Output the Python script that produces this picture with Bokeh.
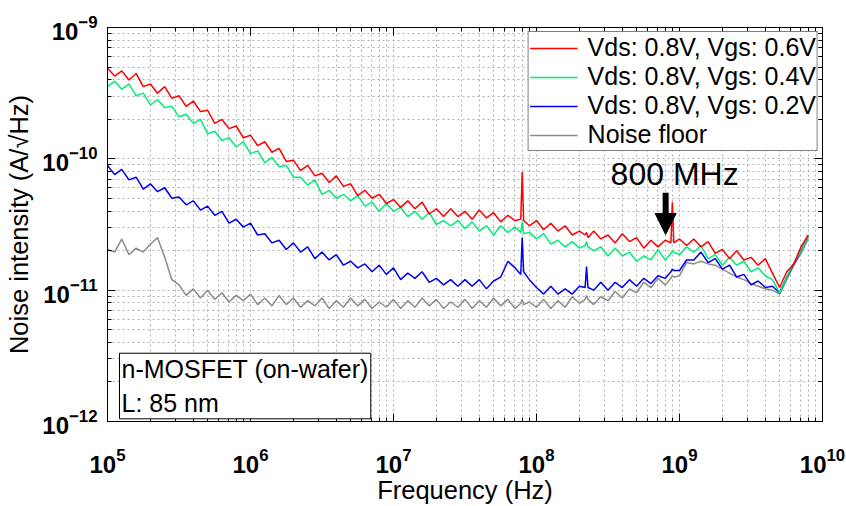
import numpy as np
from bokeh.plotting import figure
from bokeh.models import (LogAxis, FixedTicker, LogTickFormatter, CustomJSTickFormatter,
                          Legend, LegendItem, Label, Arrow, NormalHead, LogScale, Grid)
from bokeh.embed import file_html
from bokeh.resources import INLINE

# frequency grid (log10 of Hz)
freq_exp = [
    5.00, 5.05, 5.10, 5.15, 5.20, 5.25, 5.30, 5.35, 5.40, 5.45,
    5.50, 5.55, 5.60, 5.65, 5.70, 5.75, 5.80, 5.85, 5.90, 5.95,
    6.00, 6.05, 6.10, 6.15, 6.20, 6.25, 6.30, 6.35, 6.40, 6.45,
    6.50, 6.55, 6.60, 6.65, 6.70, 6.75, 6.80, 6.85, 6.90, 6.95,
    7.00, 7.05, 7.10, 7.15, 7.20, 7.25, 7.30, 7.35, 7.40, 7.45,
    7.50, 7.55, 7.60, 7.65, 7.70, 7.75, 7.80, 7.85,
    7.89, 7.90, 7.91, 7.95,
    8.00, 8.05, 8.10, 8.15, 8.20, 8.25, 8.30,
    8.34, 8.35, 8.36,
    8.40, 8.45, 8.50, 8.55, 8.60, 8.65, 8.70, 8.75, 8.80, 8.85, 8.90,
    8.94, 8.95, 8.96,
    9.00, 9.05, 9.10, 9.15, 9.20, 9.25, 9.30, 9.35, 9.40, 9.45,
    9.50, 9.55, 9.60, 9.65, 9.70, 9.75, 9.80, 9.85, 9.90,
]

# noise intensity, log10 of A/sqrt(Hz)
vgs06_log = [
    -9.31, -9.37, -9.33, -9.40, -9.35, -9.45, -9.43, -9.50, -9.45, -9.54,
    -9.52, -9.60, -9.56, -9.64, -9.63, -9.73, -9.70, -9.77, -9.75, -9.84,
    -9.82, -9.90, -9.87, -9.95, -9.92, -10.02, -10.01, -10.09, -10.05, -10.13,
    -10.11, -10.18, -10.13, -10.21, -10.19, -10.28, -10.24, -10.30, -10.27, -10.34,
    -10.31, -10.37, -10.32, -10.38, -10.33, -10.42, -10.38, -10.44, -10.38, -10.44,
    -10.40, -10.46, -10.39, -10.45, -10.41, -10.48, -10.43, -10.47,
    -10.46, -10.10, -10.47, -10.51,
    -10.47, -10.54, -10.49, -10.55, -10.51, -10.58, -10.55,
    -10.58, -10.56, -10.60,
    -10.55, -10.61, -10.58, -10.64, -10.57, -10.63, -10.60, -10.68, -10.62, -10.67, -10.62,
    -10.64, -10.33, -10.64,
    -10.61, -10.66, -10.61, -10.67, -10.63, -10.72, -10.69, -10.76, -10.70, -10.77,
    -10.75, -10.81, -10.76, -10.87, -10.98, -10.86, -10.80, -10.67, -10.58,
]
vgs04_log = [
    -9.45, -9.41, -9.47, -9.43, -9.52, -9.50, -9.59, -9.55, -9.61, -9.60,
    -9.68, -9.66, -9.73, -9.70, -9.81, -9.79, -9.86, -9.84, -9.91, -9.87,
    -9.96, -9.94, -10.03, -9.99, -10.06, -10.05, -10.14, -10.14, -10.20, -10.16,
    -10.27, -10.24, -10.30, -10.27, -10.32, -10.28, -10.36, -10.33, -10.40, -10.34,
    -10.40, -10.37, -10.44, -10.40, -10.46, -10.41, -10.50, -10.47, -10.51, -10.47,
    -10.53, -10.48, -10.55, -10.51, -10.58, -10.51, -10.56, -10.52,
    -10.56, -10.48, -10.57, -10.56,
    -10.61, -10.57, -10.65, -10.62, -10.67, -10.63, -10.68,
    -10.66, -10.63, -10.67,
    -10.70, -10.67, -10.74, -10.68, -10.74, -10.71, -10.78, -10.74, -10.77, -10.69, -10.77,
    -10.72, -10.70, -10.71,
    -10.73, -10.67, -10.71, -10.66, -10.76, -10.73, -10.81, -10.75, -10.81, -10.78,
    -10.86, -10.83, -10.89, -10.92, -11.02, -10.90, -10.79, -10.70, -10.59,
]
vgs02_log = [
    -10.05, -10.12, -10.08, -10.16, -10.14, -10.23, -10.19, -10.25, -10.22, -10.30,
    -10.29, -10.35, -10.32, -10.39, -10.36, -10.43, -10.40, -10.49, -10.46, -10.52,
    -10.49, -10.58, -10.57, -10.64, -10.62, -10.69, -10.64, -10.71, -10.67, -10.76,
    -10.71, -10.77, -10.73, -10.81, -10.78, -10.83, -10.80, -10.86, -10.81, -10.88,
    -10.83, -10.92, -10.87, -10.91, -10.86, -10.94, -10.91, -10.96, -10.92, -10.97,
    -10.92, -10.97, -10.92, -10.99, -10.93, -10.90, -10.78, -10.83,
    -10.88, -10.60, -10.86, -10.92,
    -10.98, -11.03, -10.97, -11.03, -10.99, -11.03, -10.97,
    -10.98, -10.82, -10.98,
    -11.00, -10.94, -11.00, -10.94, -10.98, -10.92, -10.97, -10.91, -10.95, -10.89, -10.91,
    -10.86, -10.84, -10.85,
    -10.85, -10.77, -10.77, -10.71, -10.79, -10.76, -10.84, -10.81, -10.90, -10.88,
    -10.96, -10.93, -10.98, -10.97, -11.02, -10.90, -10.80, -10.70, -10.59,
]
floor_log = [
    -10.69, -10.71, -10.61, -10.73, -10.68, -10.71, -10.65, -10.60, -10.75, -10.92,
    -10.96, -11.04, -10.99, -11.06, -11.00, -11.07, -11.02, -11.09, -11.04, -11.08,
    -11.03, -11.11, -11.06, -11.12, -11.04, -11.11, -11.06, -11.13, -11.08, -11.12,
    -11.06, -11.14, -11.08, -11.13, -11.06, -11.12, -11.07, -11.14, -11.09, -11.13,
    -11.07, -11.14, -11.08, -11.13, -11.06, -11.12, -11.07, -11.14, -11.09, -11.13,
    -11.07, -11.14, -11.08, -11.13, -11.06, -11.12, -11.07, -11.14,
    -11.10, -11.07, -11.11, -11.09,
    -11.13, -11.07, -11.14, -11.08, -11.13, -11.05, -11.10,
    -11.07, -11.04, -11.07,
    -11.11, -11.05, -11.08, -11.01, -11.06, -10.99, -11.02, -10.94, -10.98, -10.91, -10.96,
    -10.91, -10.89, -10.90,
    -10.89, -10.79, -10.80, -10.78, -10.80, -10.81, -10.84, -10.87, -10.90, -10.92,
    -10.95, -10.97, -10.99, -11.00, -11.03, -10.92, -10.81, -10.72, -10.61,
]

series_labels = ["Vds: 0.8V, Vgs: 0.6V", "Vds: 0.8V, Vgs: 0.4V",
                 "Vds: 0.8V, Vgs: 0.2V", "Noise floor"]
series_colors = ["#ff0000", "#00ee77", "#0000f0", "#8c8c8c"]
x_decades = [1e5, 1e6, 1e7, 1e8, 1e9, 1e10]
y_decades = [1e-12, 1e-11, 1e-10, 1e-9]
marker_freq = 8e8
marker_text = "800 MHz"
device_text = "n-MOSFET (on-wafer)\nL: 85 nm"

freq = [10 ** e for e in freq_exp]
vgs06 = [10 ** v for v in vgs06_log]
vgs04 = [10 ** v for v in vgs04_log]
vgs02 = [10 ** v for v in vgs02_log]
floor = [10 ** v for v in floor_log]

FONT = "Liberation Sans"

p = figure(width=846, height=506, x_axis_type=None, y_axis_type=None,
           x_range=(1e5, 1e10), y_range=(1e-12, 1e-9),
           x_axis_location=None, y_axis_location=None,
           output_backend="svg", toolbar_location=None,
           min_border_left=107, min_border_right=24,
           min_border_top=27, min_border_bottom=82)
p.x_scale = LogScale()
p.y_scale = LogScale()

x_minor = [m * d for d in x_decades[:-1] for m in range(2, 10)]
y_minor = [m * d for d in y_decades[:-1] for m in range(2, 10)]
xt = FixedTicker(ticks=x_decades, minor_ticks=x_minor)
yt = FixedTicker(ticks=y_decades, minor_ticks=y_minor)


def style_axis(ax, labels=True):
    ax.axis_line_color = "black"
    ax.major_tick_line_color = "black"
    ax.minor_tick_line_color = "black"
    ax.major_tick_in = 8
    ax.major_tick_out = 0
    ax.minor_tick_in = 4
    ax.minor_tick_out = 0
    if labels:
        ax.major_label_text_font = FONT
        ax.major_label_text_font_style = "bold"
        ax.major_label_text_font_size = "24px"
        ax.major_label_text_color = "black"
        ax.axis_label_text_font = FONT
        ax.axis_label_text_font_style = "normal"
        ax.axis_label_text_font_size = "25.5px"
        ax.axis_label_text_color = "black"
    else:
        ax.major_label_text_font_size = "0px"


xb = LogAxis(ticker=xt, formatter=LogTickFormatter(), axis_label="Frequency (Hz)")
style_axis(xb)
xb.major_label_standoff = 26
xb.axis_label_standoff = 0
p.add_layout(xb, "below")

yl = LogAxis(ticker=yt, formatter=LogTickFormatter(), axis_label="Noise intensity (A/\u221aHz)")
style_axis(yl)
yl.major_label_standoff = 10
yl.axis_label_standoff = 6
p.add_layout(yl, "left")

xa = LogAxis(ticker=xt, formatter=CustomJSTickFormatter(code="return ''"))
style_axis(xa, labels=False)
p.add_layout(xa, "above")
yr = LogAxis(ticker=yt, formatter=CustomJSTickFormatter(code="return ''"))
style_axis(yr, labels=False)
p.add_layout(yr, "right")

for dim, tk in ((0, xt), (1, yt)):
    g = Grid(dimension=dim, ticker=tk)
    g.grid_line_color = "#b0b0b0"
    g.grid_line_dash = "2 3"
    g.minor_grid_line_color = "#b0b0b0"
    g.minor_grid_line_dash = "2 3"
    p.add_layout(g)

p.outline_line_color = "black"
p.outline_line_alpha = 1.0
p.background_fill_color = "white"

r_floor = p.line(freq, floor, line_color=series_colors[3], line_width=1.5)
r_02 = p.line(freq, vgs02, line_color=series_colors[2], line_width=1.5)
r_04 = p.line(freq, vgs04, line_color=series_colors[1], line_width=1.5)
r_06 = p.line(freq, vgs06, line_color=series_colors[0], line_width=1.5)

# legend key lines: renderers whose only points lie outside the visible ranges
off_x = [1e2, 2e2]
off_y = [1e-15, 1e-15]
leg_r = [p.line(off_x, off_y, line_color=c, line_width=1.6) for c in series_colors]

legend = Legend(items=[LegendItem(label=lab, renderers=[r]) for lab, r in zip(series_labels, leg_r)],
                location="top_right")
legend.label_text_font = FONT
legend.label_text_font_size = "25px"
legend.label_text_color = "black"
legend.glyph_width = 48
legend.glyph_height = 20
legend.label_standoff = 10
legend.padding = 1
legend.spacing = 0
legend.margin = 4
legend.border_line_color = "black"
legend.border_line_width = 1
legend.background_fill_alpha = 1.0
p.add_layout(legend)

p.add_layout(Label(x=1e5, y=10 ** -11.48, x_offset=12, text=device_text,
                   text_align="left", text_baseline="top",
                   text_font=FONT, text_font_size="25px", text_color="black",
                   border_line_color="black", border_line_width=1,
                   background_fill_color="white", padding=2))

p.add_layout(Label(x=marker_freq, y=10 ** -10.114, x_offset=9, text=marker_text,
                   text_align="center", text_baseline="middle",
                   text_font=FONT, text_font_size="32px", text_color="black"))

p.add_layout(Arrow(end=NormalHead(size=21, fill_color="black", line_color="black"),
                   x_start=marker_freq, y_start=10 ** -10.258,
                   x_end=marker_freq, y_end=10 ** -10.576,
                   line_width=6, line_color="black"))

open("out.html", "w").write(file_html(p, INLINE))
